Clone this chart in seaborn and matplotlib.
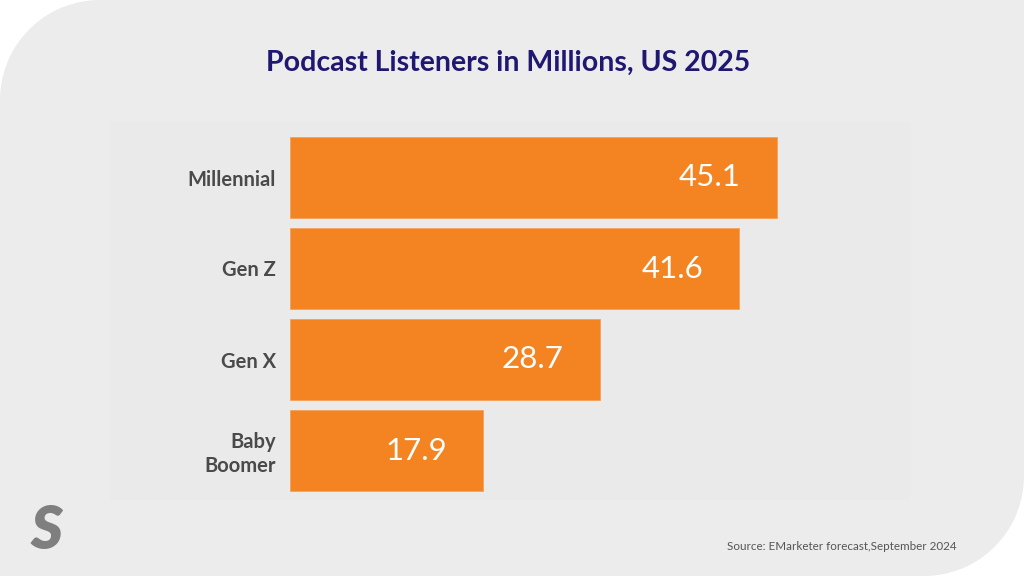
import numpy as np
import pandas as pd
import matplotlib
matplotlib.use("Agg")
import matplotlib.pyplot as plt
import matplotlib.patches as mpatches
import seaborn as sns

# Dados do grafico
geracoes = ["Millennial", "Gen Z", "Gen X", "Baby\nBoomer"]
ouvintes = [45.1, 41.6, 28.7, 17.9]
titulo = "Podcast Listeners in Millions, US 2025"
fonte = "Source: EMarketer forecast,September 2024"

df = pd.DataFrame({"geracao": geracoes, "ouvintes": ouvintes})

sns.set_theme(style="white")
plt.rcParams["font.family"] = ["Lato", "DejaVu Sans"]

W, H = 1024, 576
fig = plt.figure(figsize=(W / 100, H / 100), dpi=100)
fig.patch.set_facecolor("white")

# fundo cinza com cantos arredondados (sup. esquerdo e inf. direito)
r = 100
t = np.linspace(0, np.pi / 2, 30)
pts = [(W, H), (r, H)]
pts += [(r - r * np.sin(a), H - r + r * np.cos(a)) for a in t]
pts += [(0, 0), (W - r, 0)]
pts += [(W - r + r * np.sin(a), r - r * np.cos(a)) for a in t]
pts += [(W, H)]
fundo = mpatches.Polygon([(x / W, y / H) for x, y in pts], closed=True,
                         transform=fig.transFigure, facecolor="#ececec",
                         edgecolor="none", zorder=-2)
fig.patches.append(fundo)

# painel interno levemente diferente
painel = mpatches.Rectangle((110 / W, 1 - 500 / H), 800 / W, 378 / H,
                            transform=fig.transFigure, facecolor="#eaeaea",
                            edgecolor="none", zorder=-1)
fig.patches.append(painel)

ax = fig.add_axes([290 / W, 1 - 496 / H, 620 / W, 364 / H])
ax.set_facecolor("none")
sns.barplot(data=df, y="geracao", x="ouvintes", color="#f48422",
            width=0.9, saturation=1, orient="h", ax=ax,
            edgecolor="#f5a05a", linewidth=0.6)
ax.set_xlim(0, 620 / 10.8)
ax.set_ylim(3.5, -0.5)

for i, v in enumerate(ouvintes):
    ax.annotate(f"{v}", xy=(v, i), xytext=(-26, 0), textcoords="offset points",
                ha="right", va="center", color="white", fontsize=22.5)

ax.set_xlabel("")
ax.set_ylabel("")
ax.set_xticks([])
ax.tick_params(axis="y", length=0, pad=10)
for lab in ax.get_yticklabels():
    lab.set_fontweight("bold")
    lab.set_fontsize(14.5)
    lab.set_color("#4a4a4a")
    lab.set_ha("right")
    lab.set_multialignment("right")
sns.despine(ax=ax, left=True, bottom=True)

fig.text(508 / W, 1 - 63 / H, titulo, ha="center", va="center", fontsize=20.5,
         fontweight="bold", color="#1f1870")
fig.text(957 / W, 1 - 546 / H, fonte, ha="right", va="center", fontsize=8.4,
         color="#555555")
# logo aproximado
fig.text(47 / W, 1 - 531 / H, "S", ha="center", va="center", fontsize=44,
         fontweight="heavy", style="italic", color="#7f7f7f")

fig.savefig("out.png", dpi=100, facecolor=fig.get_facecolor())
